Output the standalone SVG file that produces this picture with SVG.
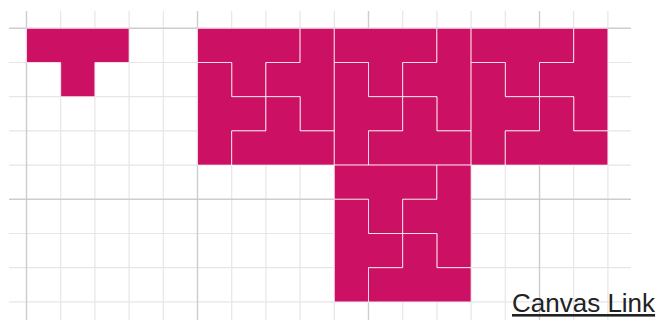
<svg xmlns="http://www.w3.org/2000/svg" xmlns:xlink="http://www.w3.org/1999/xlink" width="660" height="320" viewBox="0 0 660 320">
  <style>
    .minor { stroke: #e6e6e6; stroke-width: 1.2; fill: none; }
    .major { stroke: #cdcdcd; stroke-width: 1.4; fill: none; }
    .piece { fill: #cc1063; stroke: #ffffff; stroke-opacity: 0.75; stroke-width: 1; stroke-linejoin: miter; }
    .link { font-family: "Liberation Sans", Arial, sans-serif; font-size: 26px; fill: #222222; text-decoration: underline; }
  </style>
  <defs>
    <g id="pinwheel">
      <polygon class="piece" points="0,0 102.6,0 102.6,34.2 68.4,34.2 68.4,68.4 34.2,68.4 34.2,34.2 0,34.2"/>
      <polygon class="piece" points="102.6,0 136.8,0 136.8,102.6 102.6,102.6 102.6,68.4 68.4,68.4 68.4,34.2 102.6,34.2"/>
      <polygon class="piece" points="0,34.2 34.2,34.2 34.2,68.4 68.4,68.4 68.4,102.6 34.2,102.6 34.2,136.8 0,136.8"/>
      <polygon class="piece" points="34.2,102.6 68.4,102.6 68.4,68.4 102.6,68.4 102.6,102.6 136.8,102.6 136.8,136.8 34.2,136.8"/>
    </g>
  </defs>

  <g id="grid">
    <g class="minor">
      <path d="M60.7,11V320M94.9,11V320M129.1,11V320M163.3,11V320M231.7,11V320M265.9,11V320M300.1,11V320M334.3,11V320M402.7,11V320M436.9,11V320M471.1,11V320M505.3,11V320M573.7,11V320M607.9,11V320"/>
      <path d="M9,62.5H631M9,96.7H631M9,130.9H631M9,165.1H631M9,233.5H631M9,267.7H631M9,301.9H631"/>
    </g>
    <g class="major">
      <path d="M26.5,11V320M197.5,11V320M368.5,11V320M539.5,11V320"/>
      <path d="M9,28.3H631M9,199.3H631"/>
    </g>
  </g>

  <g id="single-t">
    <polygon class="piece" points="26.5,28.3 129.1,28.3 129.1,62.5 94.9,62.5 94.9,96.7 60.7,96.7 60.7,62.5 26.5,62.5"/>
  </g>

  <g id="block-1">
    <use xlink:href="#pinwheel" href="#pinwheel" transform="translate(197.5,28.3)"/>
  </g>
  <g id="block-2">
    <use xlink:href="#pinwheel" href="#pinwheel" transform="translate(334.3,28.3)"/>
  </g>
  <g id="block-3">
    <use xlink:href="#pinwheel" href="#pinwheel" transform="translate(471.1,28.3)"/>
  </g>
  <g id="block-4">
    <use xlink:href="#pinwheel" href="#pinwheel" transform="translate(334.3,165.1)"/>
  </g>

  <g id="connectors"></g>

  <text class="link" x="512" y="312">Canvas Link</text>
</svg>
